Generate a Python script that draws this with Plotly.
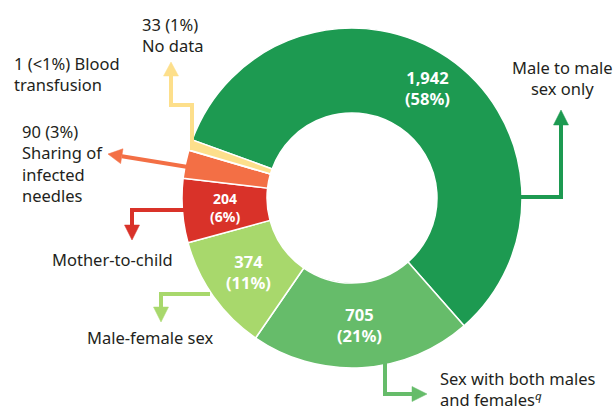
import math
import plotly.graph_objects as go

# ---- data ----
categories = ["Male to male sex only", "Sex with both males and females", "Male-female sex",
              "Mother-to-child", "Sharing of infected needles", "Blood transfusion", "No data"]
values = [1942, 705, 374, 204, 90, 1, 33]
percent_labels = ["58%", "21%", "11%", "6%", "3%", "<1%", "1%"]
colors = ["#1d9a51", "#66bc6a", "#a8d86c", "#d93229", "#f36f45", "#f9a65a", "#fddf8b"]

W, H = 616, 411
CX, CY, R = 352, 198, 170   # pie centre / outer radius in px
HOLE = 0.5
ROT = -70
FONT = "Noto Sans"

def X(x):
    return x / W

def Y(y):
    return 1 - y / H

fig = go.Figure(go.Pie(
    labels=categories, values=values, sort=False, direction="clockwise",
    rotation=ROT, hole=HOLE, textinfo="none", hoverinfo="none",
    marker=dict(colors=colors, line=dict(color="white", width=1.5)),
    domain=dict(x=[X(CX - R), X(CX + R)], y=[Y(CY + R), Y(CY - R)]),
    showlegend=False,
))

# ---- inside value labels, placed at slice mid-angle on the ring centre ----
total = sum(values)
annotations = []
cum = 0
for v, p in zip(values, percent_labels):
    mid = ROT + (cum + v / 2) / total * 360
    cum += v
    if v / total < 0.05:
        continue
    rr = R * (1 + HOLE) / 2
    if v / total > 0.5:
        rr += 6
    px = CX + rr * math.sin(math.radians(mid))
    py = CY - rr * math.cos(math.radians(mid))
    size = 16.5 if v / total > 0.08 else 14
    annotations.append(dict(
        x=X(px), y=Y(py), xref="paper", yref="paper", showarrow=False,
        xanchor="center", yanchor="middle",
        text=f"<b>{v:,}<br>({p})</b>", align="center",
        font=dict(family=FONT, size=size, color="white")))

# ---- outside category labels ----
TXT = "#231f20"
outer_labels = [
    ("33 (1%)<br>No data", 140, 35, "left"),
    ("1 (<1%) Blood<br>transfusion", 12, 74, "left"),
    ("90 (3%)<br>Sharing of<br>infected<br>needles", 20, 163, "left"),
    ("Mother-to-child", 50, 259, "left"),
    ("Male-female sex", 85, 337, "left"),
    ("Male to male<br>sex only", 562, 78, "center"),
    ("Sex with both males<br>and females<sup><i>q</i></sup>", 438, 389, "left"),
]
for t, x, y, anc in outer_labels:
    annotations.append(dict(
        x=X(x), y=Y(y), xref="paper", yref="paper", showarrow=False,
        text=t, align=anc, xanchor=anc, yanchor="middle",
        font=dict(family=FONT, size=16.5, color=TXT)))

# ---- elbow arrows ----
shapes = []
def arrow(points, tip, color, hw=7.5, width=4):
    pts = points
    path = "M " + " L ".join(f"{X(a)},{Y(b)}" for a, b in pts)
    shapes.append(dict(type="path", xref="paper", yref="paper", path=path,
                       line=dict(color=color, width=width)))
    bx, by = pts[-1]
    dx, dy = tip[0] - bx, tip[1] - by
    L = math.hypot(dx, dy)
    nx, ny = -dy / L, dx / L
    p1 = (bx + nx * hw, by + ny * hw)
    p2 = (bx - nx * hw, by - ny * hw)
    tri = f"M {X(p1[0])},{Y(p1[1])} L {X(tip[0])},{Y(tip[1])} L {X(p2[0])},{Y(p2[1])} Z"
    shapes.append(dict(type="path", xref="paper", yref="paper", path=tri,
                       fillcolor=color, line=dict(color=color, width=0.5)))

arrow([(192, 150), (192, 105), (171, 105), (171, 76)], (171, 62), colors[6])
arrow([(188, 167), (121.8, 156.2)], (108, 154), colors[4])
arrow([(187, 210), (132, 210), (132, 225)], (132, 240), colors[3])
arrow([(210, 294), (161, 294), (161, 307)], (161, 322), colors[2])
arrow([(520, 197), (561, 197), (561, 125)], (561, 110), colors[0])
arrow([(385, 363), (385, 394), (412, 394)], (427, 394), colors[1])

fig.update_layout(
    width=W, height=H, margin=dict(l=0, r=0, t=0, b=0),
    paper_bgcolor="white", plot_bgcolor="white",
    annotations=annotations, shapes=shapes,
)
fig.write_html("out.html", config={"displayModeBar": False},
               post_script="document.body.style.margin='0';document.body.style.overflow='hidden';")
